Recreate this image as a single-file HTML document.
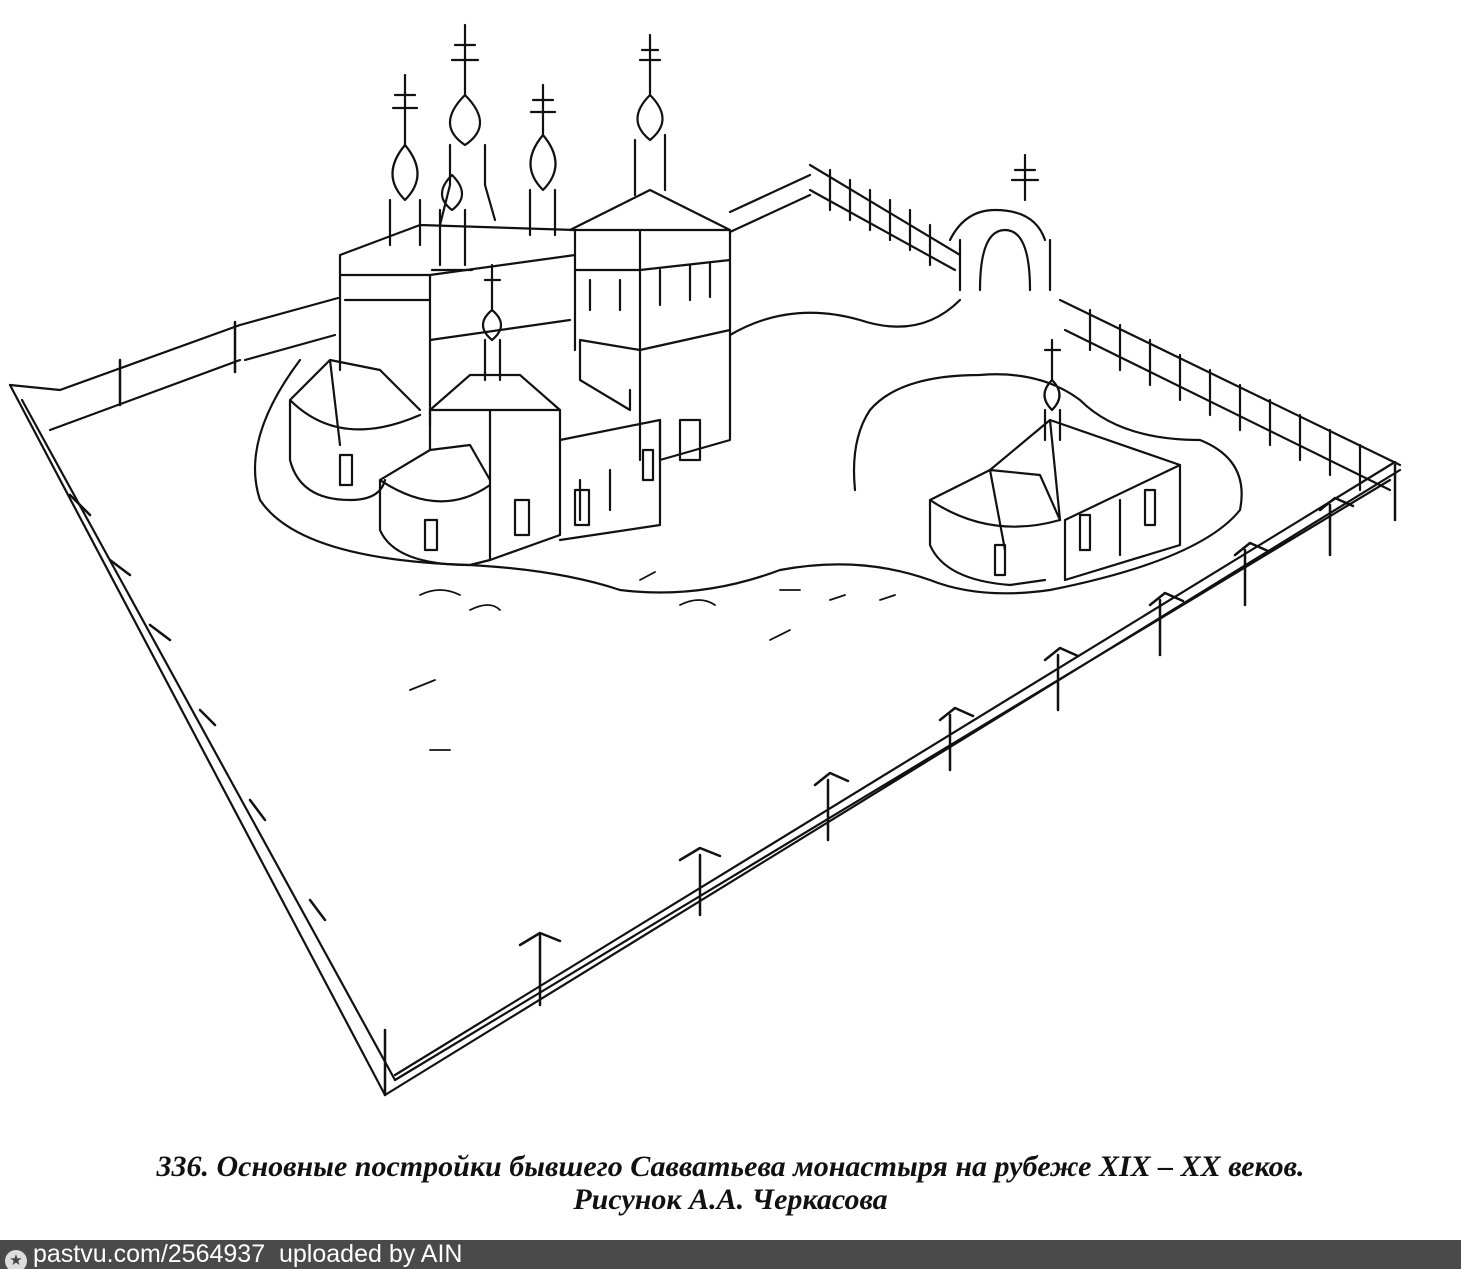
<!DOCTYPE html>
<html><head><meta charset="utf-8"><style>
html,body{margin:0;padding:0;background:#fff;width:1461px;height:1269px;overflow:hidden;position:relative}
svg{position:absolute;left:0;top:0}
.cap{position:absolute;left:0;width:1461px;text-align:center;font-family:"Liberation Serif",serif;font-weight:bold;font-style:italic;font-size:30px;color:#111;white-space:nowrap}
.bar{position:absolute;left:0;top:1240px;width:1461px;height:29px;background:#4a4a4a;color:#fff;font-family:"Liberation Sans",sans-serif;font-size:25px;line-height:29px}
.ic{display:inline-block;width:22px;height:22px;border-radius:50%;background:#ddd;color:#444;font-size:15px;text-align:center;line-height:22px;margin:0 6px 0 5px;vertical-align:-3px}
</style></head><body>
<svg width="1461" height="1240" viewBox="0 0 1461 1240" fill="none" stroke="#111" stroke-width="2.2" stroke-linecap="round" stroke-linejoin="round">
<!-- fences -->
<path d="M10 385 L385 1095 M22 400 L395 1080"/>
<path d="M385 1095 L1400 470 M395 1075 L1395 462 M395 1080 L1390 480"/>
<path d="M10 385 L60 390 L240 325 M50 430 L240 360 M240 325 L338 298 M245 360 L335 335 M730 212 L810 175 M730 232 L810 195"/>
<path d="M810 165 L960 255 M810 190 L955 270"/>
<path d="M1060 300 L1400 465 M1065 330 L1390 490"/>
<g stroke-width="2.5">
<path d="M120 360 v45 M235 322 v50 M385 1030 v65 M540 935 v70 M700 855 v60 M828 780 v60 M950 715 v55 M1058 655 v55 M1160 600 v55 M1245 550 v55 M1330 505 v50 M1395 465 v55"/>
<path d="M70 495 l20 20 M110 560 l20 15 M150 625 l20 15 M200 710 l15 15 M250 800 l15 20 M310 900 l15 20"/>
<path d="M520 945 l20 -12 l20 8 M680 860 l20 -12 l20 8 M815 785 l15 -12 l18 8 M940 720 l15 -12 l18 8 M1045 660 l15 -12 l18 8 M1150 605 l15 -12 l18 8 M1235 555 l15 -12 l18 8 M1320 510 l15 -12 l18 8"/>
</g>
<path d="M830 170 v40 M850 180 v40 M870 190 v40 M890 200 v40 M910 210 v40 M930 225 v40 M1090 310 v40 M1120 325 v45 M1150 340 v45 M1180 355 v45 M1210 370 v45 M1240 385 v45 M1270 400 v45 M1300 415 v45 M1330 430 v45 M1360 445 v45"/>
<!-- gate -->
<path d="M950 240 q15 -30 45 -30 q40 0 50 30 M960 290 v-50 M1050 290 v-50 M980 290 q0 -60 25 -60 q25 0 25 60 M1025 200 v-45 M1015 170 h20 M1012 180 h26"/>
<!-- ground outlines -->
<path d="M300 360 Q240 440 260 500 Q300 560 470 565 Q560 570 620 590 Q700 600 780 570 Q860 555 930 580 Q980 600 1050 590 Q1200 560 1240 510 Q1250 460 1200 440 Q1120 440 1080 400 Q1040 370 980 375 Q900 375 870 410 Q850 440 855 490"/>
<path d="M730 335 Q790 300 860 320 Q920 340 960 300"/>
<!-- church left apses -->
<path d="M290 400 L330 360 L380 370 L420 410 M290 400 v60 Q300 500 350 500 Q380 500 385 480 M330 360 l10 85 M290 400 q50 50 130 15"/>
<path d="M380 480 L430 450 L470 445 L490 480 M380 480 v50 Q395 565 470 565 L490 560 M380 480 q60 40 110 5"/>
<rect x="340" y="455" width="12" height="30"/><rect x="425" y="520" width="12" height="30"/>
<!-- main body -->
<path d="M340 255 L420 225 L575 230 L575 350 M340 255 v115 M340 275 h90 L575 255 M430 275 v150 M345 300 h85 M430 340 l140 -20"/>
<path d="M430 410 L470 375 L520 375 L560 410 v125 L490 560 M430 410 h130 M490 410 v150 M430 410 v40"/>
<path d="M560 440 L660 420 v105 L560 540 M580 480 v40 M610 470 v40"/>
<rect x="515" y="500" width="14" height="35"/><rect x="575" y="490" width="14" height="35"/>
<!-- bell tower -->
<path d="M570 230 L650 190 L730 230 L730 440 L660 460 L660 420 M570 230 h70 v230 M640 230 L730 230 M575 270 h65 l90 -10 M580 340 l60 10 l90 -20 M580 340 v40 l50 30 v-20"/>
<path d="M590 280 v30 M620 280 v30 M660 270 v35 M690 265 v35 M710 262 v35"/>
<rect x="680" y="420" width="20" height="40"/><rect x="643" y="450" width="10" height="30"/>
<path d="M635 195 v-55 M665 190 v-55 M650 140 q-25 -20 0 -45 q25 25 0 45 M650 95 v-60 M642 50 h16 M640 60 h20"/>
<!-- domes -->
<path d="M390 200 v45 M420 200 v45 M405 200 q-25 -25 0 -55 q25 30 0 55 M405 145 v-70 M395 95 h20 M393 108 h24"/>
<path d="M450 185 v-40 M485 185 v-40 M465 145 q-30 -20 0 -50 q30 30 0 50 M465 95 v-70 M455 45 h20 M452 60 h26 M450 185 L440 225 M485 185 L495 220"/>
<path d="M530 190 v45 M555 190 v45 M543 190 q-25 -25 0 -55 q25 30 0 55 M543 135 v-50 M533 100 h20 M531 112 h24"/>
<path d="M440 210 v55 M465 210 v55 M452 210 q-20 -15 0 -35 q20 20 0 35 M432 270 h40"/>
<path d="M485 340 v40 M500 340 v40 M492 340 q-18 -15 0 -30 q18 15 0 30 M492 310 v-45 M485 280 h15"/>
<!-- chapel right -->
<path d="M930 500 L990 470 L1040 475 L1060 520 M930 500 v45 Q945 580 1010 585 L1045 580 M930 500 q60 40 130 20 M990 470 l15 80"/>
<path d="M990 470 L1050 420 L1180 465 L1065 520 M1050 420 L1060 520 M1065 520 v60 L1180 545 V465 M1120 500 v55"/>
<rect x="995" y="545" width="10" height="30"/><rect x="1080" y="515" width="10" height="35"/><rect x="1145" y="490" width="10" height="35"/>
<path d="M1045 440 v-30 M1060 440 v-30 M1052 410 q-15 -15 0 -30 q15 15 0 30 M1052 380 v-40 M1045 350 h15"/>
<!-- scribbles -->
<path d="M410 690 l25 -10 M430 750 l20 0 M420 595 q20 -10 40 0 M470 610 q20 -10 30 0 M640 580 l15 -8 M680 605 q20 -10 35 0 M780 590 l20 0 M830 600 l15 -5 M770 640 l20 -10 M880 600 l15 -5" stroke-width="1.8"/>
</svg>
<div class="cap" style="top:1150px">336. Основные постройки бывшего Савватьева монастыря на рубеже XIX – XX веков.</div>
<div class="cap" style="top:1183px">Рисунок А.А. Черкасова</div>
<div class="bar"><span class="ic">★</span>pastvu.com/2564937&nbsp; uploaded by AIN</div>
</body></html>
